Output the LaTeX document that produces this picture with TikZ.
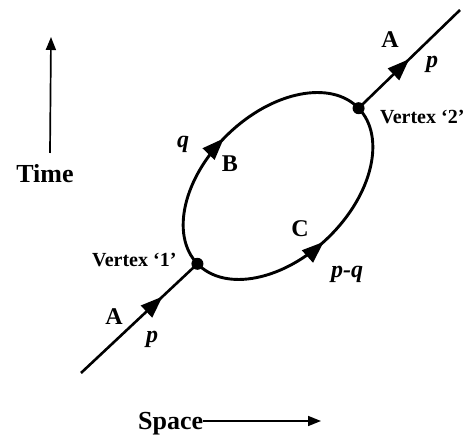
\documentclass[tikz,border=0pt]{standalone}
\usepackage{fontspec}
\setmainfont{Liberation Serif}
\usetikzlibrary{arrows.meta,positioning,decorations.markings}

\begin{document}
\begin{tikzpicture}[x=1pt,y=1pt,
every node/.style={inner sep=0pt},
dot/.style={circle,fill,minimum size=12pt},
lbl/.style={font=\bfseries\fontsize{24}{24}\selectfont,anchor=base},
mom/.style={font=\bfseries\itshape\fontsize{24}{24}\selectfont,anchor=base},
vtx/.style={font=\bfseries\fontsize{20}{20}\selectfont,anchor=base west},
axis/.style={font=\bfseries\fontsize{26}{26}\selectfont,anchor=base},
flow/.style={postaction={decorate},decoration={markings,
  mark=at position #1 with {\arrow{Triangle[length=22pt,width=16pt]}}}}]
\useasboundingbox (0,0) rectangle (471,436);
\coordinate (O) at (278,250);
\coordinate (A1) at (81,63);
\coordinate (A2) at (460,426);
\node[dot] (V1) at ([shift={(224:112)}]O) {};
\node[dot] (V2) at ([shift={(44:112)}]O) {};
\draw[line width=2.6pt,flow=0.7] (A1) -- (V1.center);
\draw[line width=2.6pt,flow=0.5] (V2.center) -- (A2);
\draw[line width=2.9pt,rotate=44,flow=0.48] (V1.center) arc[start angle=180,end angle=0,x radius=112pt,y radius=72pt];
\draw[line width=2.9pt,rotate=44,flow=0.48] (V1.center) arc[start angle=180,end angle=360,x radius=112pt,y radius=72pt];
\node[lbl] (LA2) at (390,388) {A};
\node[mom] (LP2) at (432,368) {p};
\node[vtx] (LV2) at (380,312) {Vertex ‘2’};
\node[mom] (LQ) at (183,288) {q};
\node[lbl] (LB) at (230,264) {B};
\node[lbl] (LC) at (300,199) {C};
\node[vtx] (LV1) at (92,169) {Vertex ‘1’};
\node[mom] (LPQ) at (347,158) {p-q};
\node[lbl] (LA1) at (114,111) {A};
\node[mom] (LP1) at (152,93) {p};
\coordinate (T0) at (50,283);
\coordinate (T1) at (51,399);
\draw[line width=1.7pt,-{Triangle[length=13pt,width=10pt]}] (T0) -- (T1);
\node[axis] (T) at (45,253) {Time};
\node[axis,anchor=base west] (S) at (138,6) {Space};
\coordinate (S1) at (321,15);
\draw[line width=1.7pt,-{Triangle[length=13pt,width=10pt]}] (S.east |- S1) -- (S1);
\end{tikzpicture}
\end{document}
